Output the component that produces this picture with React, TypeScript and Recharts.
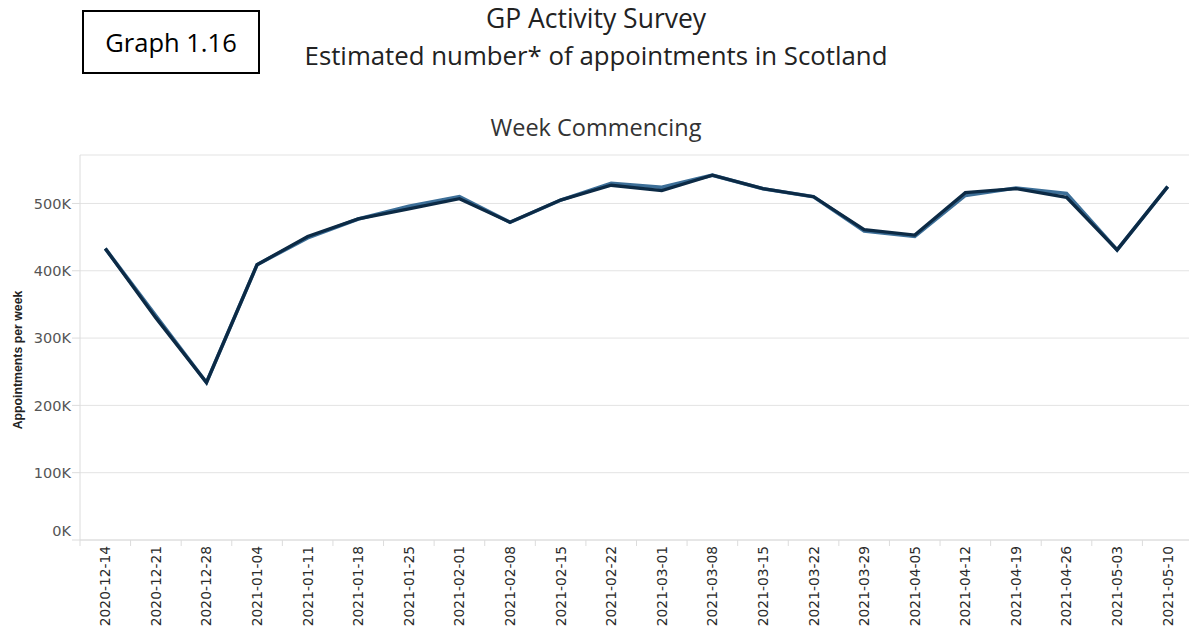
import React from "react";
import { LineChart, Line, XAxis, YAxis, CartesianGrid } from "recharts";

const weeks = [
  "2020-12-14", "2020-12-21", "2020-12-28", "2021-01-04", "2021-01-11", "2021-01-18",
  "2021-01-25", "2021-02-01", "2021-02-08", "2021-02-15", "2021-02-22", "2021-03-01",
  "2021-03-08", "2021-03-15", "2021-03-22", "2021-03-29", "2021-04-05", "2021-04-12",
  "2021-04-19", "2021-04-26", "2021-05-03", "2021-05-10",
];

// lighter series (thousands)
const seriesLight = [433, 333, 234, 409, 449, 477, 496, 510, 472, 505, 530, 524, 542, 522, 510, 459, 451, 512, 523, 515, 431, 525];
// darker series (thousands)
const seriesDark = [433, 330, 234, 409, 451, 477, 492, 507, 472, 505, 527, 519, 542, 522, 510, 461, 453, 516, 522, 509, 431, 525];

const yTicks = [0, 100000, 200000, 300000, 400000, 500000];

const data = weeks.map((w, i) => ({
  week: w,
  light: seriesLight[i] * 1000,
  dark: seriesDark[i] * 1000,
}));

const HALF_BAND = 25.3;

const XTick = (props: any) => {
  const { x, y, payload } = props;
  return (
    <g>
      <line x1={x - HALF_BAND} y1={y} x2={x - HALF_BAND} y2={y + 6} stroke="#dcdcdc" strokeWidth={1} />
      <text
        x={x}
        y={y + 6}
        transform={`rotate(-90, ${x}, ${y + 6})`}
        textAnchor="end"
        dy="0.36em"
        fontFamily="DejaVu Sans, sans-serif"
        fontSize={13.8}
        fill="#2a2a2a"
      >
        {payload.value}
      </text>
    </g>
  );
};

const YTick = (props: any) => {
  const { x, y, payload } = props;
  const shift = payload.value === 0 ? -9 : 0;
  return (
    <text
      x={x}
      y={y + shift}
      textAnchor="end"
      dy="0.36em"
      fontFamily="DejaVu Sans, sans-serif"
      fontSize={14.5}
      fill="#555"
    >
      {`${Math.round(payload.value / 1000)}K`}
    </text>
  );
};

export default function App() {
  return (
    <div style={{ position: "absolute", left: 0, top: 0, width: 1189, height: 628, overflow: "hidden", background: "#fff" }}>
      <div
        style={{
          position: "absolute", left: 82, top: 10, width: 174, height: 60,
          border: "2px solid #000", display: "flex", alignItems: "center", justifyContent: "center",
          fontFamily: "Open Sans, sans-serif", fontSize: 25.5, color: "#000",
        }}
      >
        Graph 1.16
      </div>
      <div
        style={{
          position: "absolute", left: 0, top: 0, width: 1192, textAlign: "center",
          fontFamily: "Open Sans, sans-serif", fontSize: 25.8, color: "#222", lineHeight: "37px",
        }}
      >
        <div style={{ fontSize: 26.5 }}>GP Activity Survey</div>
        <div>Estimated number* of appointments in Scotland</div>
      </div>
      <div
        style={{
          position: "absolute", left: 0, top: 111, width: 1192, textAlign: "center",
          fontFamily: "Open Sans, sans-serif", fontSize: 23.5, color: "#333",
        }}
      >
        Week Commencing
      </div>
      <div
        style={{
          position: "absolute", left: 18, top: 360, width: 0, height: 0,
        }}
      >
        <div
          style={{
            position: "absolute", transform: "translate(-50%, -50%) rotate(-90deg)",
            whiteSpace: "nowrap", fontFamily: "Liberation Sans, Arial, sans-serif",
            fontWeight: "bold", fontSize: 12.3, color: "#222",
          }}
        >
          Appointments per week
        </div>
      </div>
      <div style={{ position: "absolute", left: 0, top: 0 }}>
        <LineChart width={1200} height={628} data={data} margin={{ top: 155, right: 7, bottom: 0, left: 0 }}>
          <CartesianGrid horizontal={true} vertical={false} stroke="#e3e3e3" strokeWidth={1} />
          <XAxis
            dataKey="week"
            interval={0}
            height={88}
            padding={{ left: HALF_BAND, right: HALF_BAND }}
            tickLine={false}
            tickSize={0}
            tickMargin={0}
            axisLine={{ stroke: "#dcdcdc" }}
            tick={<XTick />}
          />
          <YAxis
            width={80}
            domain={[0, 572000]}
            ticks={yTicks}
            tickSize={8}
            tickMargin={1}
            tickLine={{ stroke: "#dcdcdc" }}
            axisLine={{ stroke: "#dcdcdc" }}
            tick={<YTick />}
          />
          <Line type="linear" dataKey="light" stroke="#3d6f98" strokeWidth={3.6} dot={false} isAnimationActive={false} />
          <Line type="linear" dataKey="dark" stroke="#0c2a45" strokeWidth={3.3} dot={false} isAnimationActive={false} />
        </LineChart>
      </div>
    </div>
  );
}
